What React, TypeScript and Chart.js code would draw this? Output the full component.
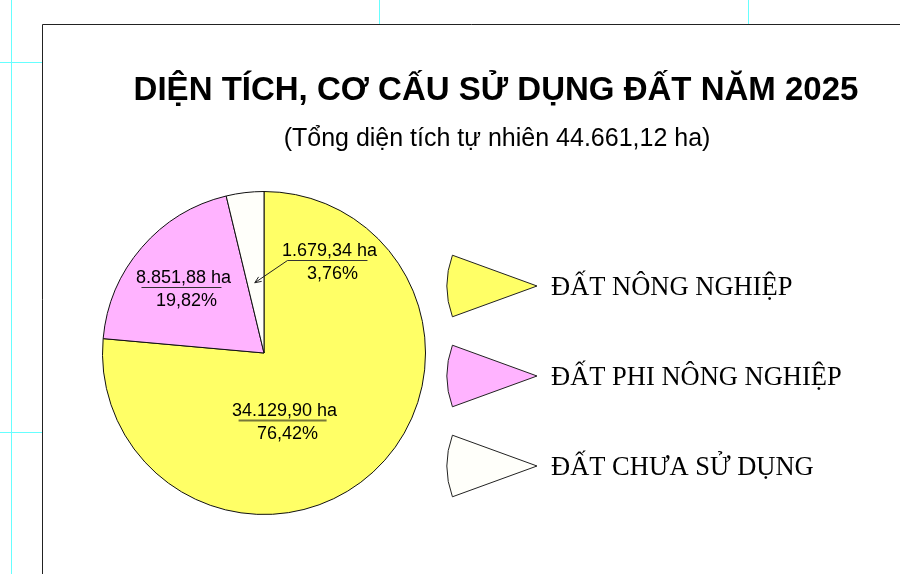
import React, { useEffect, useRef } from "react";
import { Chart, registerables } from "chart.js";

Chart.register(...registerables);

// ---- data ----
const TITLE = "DIỆN TÍCH, CƠ CẤU SỬ DỤNG ĐẤT NĂM 2025";
const SUBTITLE = "(Tổng diện tích tự nhiên 44.661,12 ha)";
const categories = ["ĐẤT NÔNG NGHIỆP", "ĐẤT PHI NÔNG NGHIỆP", "ĐẤT CHƯA SỬ DỤNG"];
const areaHa = [34129.9, 8851.88, 1679.34];
const areaLabels = ["34.129,90 ha", "8.851,88 ha", "1.679,34 ha"];
const percentLabels = ["76,42%", "19,82%", "3,76%"];

// ---- style / layout ----
const sliceColors = ["#ffff66", "#ffb3ff", "#fffffa"];
const dividerColors = ["#77773a", "#333333", "#333333"];
// divider centre relative to pie centre, in units of outer radius
const labelLayout = [
  { dx: 0.115, dy: 0.415, half: 44, arrow: null as null | { dx: number; dy: number } },
  { dx: -0.511, dy: -0.409, half: 40, arrow: null as null | { dx: number; dy: number } },
  { dx: 0.393, dy: -0.576, half: 40, arrow: { dx: -0.057, dy: -0.435 } },
];

const SANS = "Arial, 'Liberation Sans', sans-serif";
const SERIF = "'Times New Roman', 'Liberation Serif', serif";

const decorPlugin = {
  id: "decor",
  beforeDraw(chart: any) {
    const ctx = chart.ctx as CanvasRenderingContext2D;
    const W = chart.width;
    const H = chart.height;
    ctx.save();
    ctx.fillStyle = "#ffffff";
    ctx.fillRect(0, 0, W, H);
    // cyan guides
    ctx.strokeStyle = "#66ffff";
    ctx.lineWidth = 1;
    ctx.beginPath();
    ctx.moveTo(11.5, 0); ctx.lineTo(11.5, H);
    ctx.moveTo(0, 62.5); ctx.lineTo(42, 62.5);
    ctx.moveTo(0, 432.5); ctx.lineTo(42, 432.5);
    ctx.moveTo(379.5, 0); ctx.lineTo(379.5, 24);
    ctx.moveTo(748.5, 0); ctx.lineTo(748.5, 24);
    ctx.stroke();
    // frame
    ctx.strokeStyle = "#222222";
    ctx.beginPath();
    ctx.moveTo(42.5, H); ctx.lineTo(42.5, 24.5); ctx.lineTo(W, 24.5);
    ctx.stroke();
    // titles
    ctx.fillStyle = "#000000";
    ctx.textAlign = "center";
    ctx.textBaseline = "alphabetic";
    ctx.font = `bold 33px ${SANS}`;
    ctx.fillText(TITLE, 496, 100);
    ctx.font = `25px ${SANS}`;
    ctx.fillText(SUBTITLE, 497, 146);
    ctx.restore();
  },
  afterDatasetsDraw(chart: any) {
    const ctx = chart.ctx as CanvasRenderingContext2D;
    const meta = chart.getDatasetMeta(0);
    const ds = chart.data.datasets[0];
    ctx.save();
    meta.data.forEach((arc: any, i: number) => {
      const { x, y, outerRadius } = arc.getProps(["x", "y", "outerRadius"], true);
      const L = labelLayout[i];
      const cx = x + L.dx * outerRadius;
      const cy = y + L.dy * outerRadius;
      // divider
      ctx.strokeStyle = dividerColors[i];
      ctx.lineWidth = i === 0 ? 2 : 1;
      ctx.beginPath();
      ctx.moveTo(cx - L.half, Math.round(cy) + 0.5);
      ctx.lineTo(cx + L.half, Math.round(cy) + 0.5);
      ctx.stroke();
      // text
      ctx.fillStyle = "#000000";
      ctx.font = `18px ${SANS}`;
      ctx.textAlign = "center";
      ctx.textBaseline = "alphabetic";
      ctx.fillText(areaLabels[i], cx + 2, cy - 4);
      ctx.fillText(percentLabels[i], cx + 5, cy + 19);
      if (L.arrow) {
        const sx = cx - L.half;
        const sy = Math.round(cy) + 0.5;
        const ex = x + L.arrow.dx * outerRadius;
        const ey = y + L.arrow.dy * outerRadius;
        ctx.strokeStyle = "#222222";
        ctx.lineWidth = 1;
        ctx.beginPath();
        ctx.moveTo(sx, sy);
        ctx.lineTo(ex, ey);
        ctx.stroke();
        const ang = Math.atan2(ey - sy, ex - sx);
        const ah = 7;
        ctx.beginPath();
        ctx.moveTo(ex, ey);
        ctx.lineTo(ex - ah * Math.cos(ang - 0.4), ey - ah * Math.sin(ang - 0.4));
        ctx.moveTo(ex, ey);
        ctx.lineTo(ex - ah * Math.cos(ang + 0.4), ey - ah * Math.sin(ang + 0.4));
        ctx.stroke();
      }
    });
    // legend (wedge icons)
    const items = chart.data.labels as string[];
    items.forEach((lab: string, i: number) => {
      const ax = 537;
      const ay = 286 + i * 90;
      const r = 90;
      const ha = (20 * Math.PI) / 180;
      ctx.beginPath();
      ctx.moveTo(ax, ay);
      ctx.arc(ax, ay, r, Math.PI - ha, Math.PI + ha);
      ctx.closePath();
      ctx.fillStyle = (ds.backgroundColor as string[])[i];
      ctx.fill();
      ctx.strokeStyle = "#222222";
      ctx.lineWidth = 1;
      ctx.stroke();
      ctx.fillStyle = "#000000";
      ctx.font = `26.5px ${SERIF}`;
      ctx.textAlign = "left";
      ctx.textBaseline = "alphabetic";
      ctx.fillText(lab, 551, ay + 9);
    });
    ctx.restore();
  },
};

export default function App() {
  const ref = useRef<HTMLCanvasElement | null>(null);
  useEffect(() => {
    document.body.style.margin = "0";
    if (!ref.current) return;
    const chart = new Chart(ref.current, {
      type: "pie",
      data: {
        labels: categories,
        datasets: [
          {
            data: areaHa,
            backgroundColor: sliceColors,
            borderColor: "#111111",
            borderWidth: 1,
          },
        ],
      },
      options: {
        responsive: false,
        animation: false,
        layout: { padding: { left: 102, right: 474, top: 191, bottom: 59 } },
        plugins: {
          legend: { display: false },
          title: { display: false },
          tooltip: { enabled: false },
        },
      },
      plugins: [decorPlugin],
    });
    return () => chart.destroy();
  }, []);
  return (
    <div style={{ width: 900, height: 574 }}>
      <canvas ref={ref} width={900} height={574} style={{ display: "block" }} />
    </div>
  );
}
